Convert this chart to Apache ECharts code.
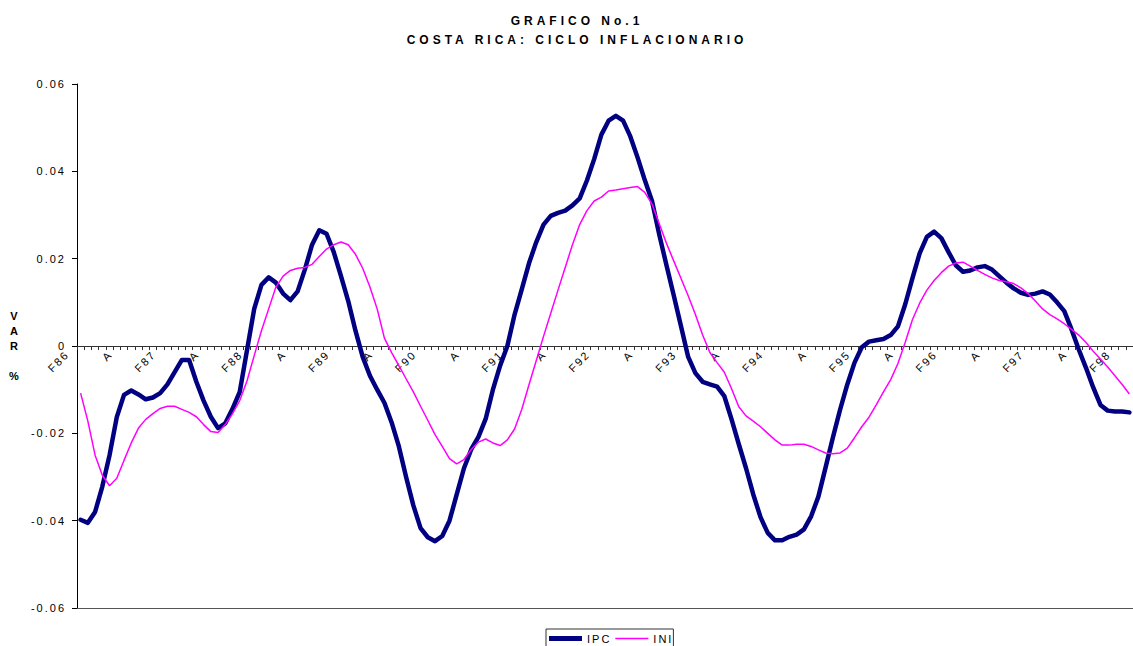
<!DOCTYPE html>
<html><head><meta charset="utf-8">
<script src="https://cdn.jsdelivr.net/npm/echarts@6/dist/echarts.min.js"></script>
<style>
html,body{margin:0;padding:0;background:#fff;}
#c{width:1133px;height:646px;}
#c text{letter-spacing:2px;}
#c text[style*="bold"]{letter-spacing:4px;}
</style></head><body><div id="c"></div>
<script>
const titleLines = ['GRAFICO No.1', 'COSTA RICA: CICLO INFLACIONARIO'];
const seriesNames = ['IPC', 'INI'];
const tickLabels = ['F86','A','F87','A','F88','A','F89','A','F90','A','F91','A','F92','A','F93','A','F94','A','F95','A','F96','A','F97','A','F98'];
const monthNames = ['Feb','Mar','Abr','May','Jun','Jul','Ago','Set','Oct','Nov','Dic','Ene'];
const yTicks = [-0.06, 0.06, 0.02];

const ipc = [
-0.0398,-0.0405,-0.038,-0.0322,-0.025,-0.0163,-0.0112,-0.0102,-0.0111,-0.0122,
-0.0118,-0.0108,-0.0088,-0.006,-0.0032,-0.0032,-0.0082,-0.0125,-0.0162,-0.0188,
-0.0177,-0.0144,-0.0105,-0.001,0.0085,0.014,0.0157,0.0145,0.012,0.0105,
0.0125,0.0175,0.0232,0.0265,0.0257,0.0215,0.016,0.0103,0.0035,-0.0025,
-0.0068,-0.010,-0.013,-0.0175,-0.023,-0.030,-0.0365,-0.0417,-0.0438,-0.0447,
-0.0435,-0.040,-0.034,-0.028,-0.0237,-0.0208,-0.0167,-0.010,-0.0045,0.000,
0.0072,0.013,0.019,0.0238,0.0278,0.0298,0.0305,0.031,0.0322,0.0338,
0.0379,0.0428,0.0484,0.0516,0.0527,0.0516,0.048,0.0432,0.038,0.0332,
0.0255,0.0185,0.0116,0.0046,-0.0025,-0.0062,-0.0082,-0.0088,-0.0093,-0.0115,
-0.0168,-0.0225,-0.028,-0.034,-0.0392,-0.0428,-0.0445,-0.0445,-0.0437,-0.0432,
-0.042,-0.039,-0.0345,-0.0278,-0.021,-0.0146,-0.0088,-0.0038,-0.0003,0.001,
0.0013,0.0016,0.0025,0.0045,0.0095,0.0155,0.0212,0.025,0.0262,0.0247,
0.0215,0.0185,0.017,0.0173,0.018,0.0183,0.0175,0.016,0.0145,0.0132,
0.0122,0.0117,0.012,0.0125,0.0118,0.010,0.008,0.0038,-0.0008,-0.005,
-0.0095,-0.0135,-0.0148,-0.015,-0.015,-0.0152
];
const ini = [
-0.0108,-0.0172,-0.025,-0.0296,-0.032,-0.0303,-0.0262,-0.0222,-0.0188,-0.0168,
-0.0155,-0.0143,-0.0138,-0.0138,-0.0145,-0.0152,-0.0162,-0.018,-0.0196,-0.0198,
-0.018,-0.0155,-0.0125,-0.008,-0.0022,0.0035,0.0085,0.0135,0.016,0.0173,
0.0178,0.018,0.0187,0.0205,0.0222,0.0232,0.0238,0.0232,0.021,0.0178,
0.0135,0.0085,0.0018,-0.0015,-0.0045,-0.0075,-0.0105,-0.0138,-0.017,-0.0203,
-0.023,-0.0258,-0.027,-0.026,-0.0237,-0.022,-0.0213,-0.0222,-0.0228,-0.0215,
-0.019,-0.0145,-0.0088,-0.0033,0.0022,0.0075,0.0128,0.018,0.0232,0.0278,
0.031,0.0332,0.0341,0.0355,0.0357,0.036,0.0363,0.0365,0.0352,0.0325,
0.028,0.0235,0.0195,0.0155,0.0115,0.0072,0.0025,-0.0015,-0.0038,-0.006,
-0.0098,-0.0139,-0.016,-0.0172,-0.0185,-0.02,-0.0215,-0.0227,-0.0227,-0.0225,
-0.0225,-0.023,-0.0238,-0.0245,-0.0247,-0.0245,-0.0234,-0.021,-0.0185,-0.0163,
-0.0135,-0.0105,-0.0077,-0.004,0.0008,0.006,0.0098,0.0128,0.015,0.0168,
0.0183,0.019,0.0192,0.0183,0.0173,0.0164,0.0156,0.015,0.0147,0.0143,
0.0133,0.012,0.0103,0.0085,0.0072,0.0062,0.0051,0.0038,0.0025,0.0008,
-0.0012,-0.003,-0.0048,-0.0068,-0.0088,-0.011
];

const categories = ipc.map(function (v, i) {
  const yr = 86 + Math.floor((i + 1) / 12);
  return monthNames[i % 12] + '-' + yr;
});

const chart = echarts.init(document.getElementById('c'), null, {renderer: 'svg'});
const FONT = 'Liberation Sans, Arial, sans-serif';
chart.setOption({
  animation: false,
  backgroundColor: '#ffffff',
  textStyle: {fontFamily: FONT},
  title: {
    text: titleLines.join('\n'),
    left: 572, top: 6, textAlign: 'center',
    textStyle: {fontSize: 12, fontWeight: 'bold', color: '#000', lineHeight: 19, fontFamily: FONT}
  },
  legend: {
    data: [
      {name: seriesNames[0], icon: 'path://M0,0h33v5h-33z'},
      {name: seriesNames[1], icon: 'path://M0,0h30v1.5h-30z'}
    ],
    symbolKeepAspect: true,
    left: 546, top: 629,
    padding: [4, 6, 4, 3],
    itemWidth: 33, itemHeight: 14, itemGap: 10,
    borderColor: '#333', borderWidth: 1,
    textStyle: {fontSize: 11, color: '#000', fontFamily: FONT}
  },
  grid: {left: 77, right: 0, top: 84, bottom: 38, containLabel: false, outerBoundsMode: 'none'},
  xAxis: [{
    type: 'category',
    data: categories,
    boundaryGap: true,
    position: 'bottom',
    offset: -262,
    axisLine: {onZero: false, lineStyle: {color: '#333', width: 1}},
    axisTick: {show: true, interval: 0, length: 4, lineStyle: {color: '#333'}},
    axisLabel: {
      interval: function (idx) { return idx % 6 === 0; },
      formatter: function (v, idx) { return tickLabels[Math.round(idx / 6)] || ''; },
      rotate: 45, margin: -7, padding: [0, 19, 0, 0],
      fontSize: 11, color: '#000', fontFamily: FONT
    },
    splitLine: {show: false}
  }, {
    type: 'category',
    data: categories,
    position: 'bottom',
    offset: 0,
    axisLine: {onZero: false, lineStyle: {color: '#555', width: 1}},
    axisTick: {show: false},
    axisLabel: {show: false},
    splitLine: {show: false}
  }],
  yAxis: {
    type: 'value',
    min: yTicks[0], max: yTicks[1], interval: yTicks[2],
    name: 'V\nA\nR\n\n%',
    nameLocation: 'middle', nameGap: 62, nameRotate: 0,
    nameTextStyle: {fontSize: 11, fontWeight: 700, color: '#000', lineHeight: 15, align: 'center', fontFamily: FONT},
    axisLine: {show: true, onZero: false, lineStyle: {color: '#000', width: 1}},
    axisTick: {show: true, length: 5, lineStyle: {color: '#000'}},
    axisLabel: {
      margin: 11, fontSize: 11, color: '#000', fontFamily: FONT,
      formatter: function (v) { return Math.abs(v) < 1e-9 ? '0' : v.toFixed(2); }
    },
    splitLine: {show: false}
  },
  series: [{
    name: seriesNames[0], type: 'line', data: ipc, xAxisIndex: 0,
    symbol: 'none', smooth: false,
    lineStyle: {color: '#000080', width: 4.5, join: 'round', cap: 'round'},
    itemStyle: {color: '#000080'}
  }, {
    name: seriesNames[1], type: 'line', data: ini, xAxisIndex: 0,
    symbol: 'none', smooth: false,
    lineStyle: {color: '#ff00ff', width: 1.5},
    itemStyle: {color: '#ff00ff'}
  }]
});
</script></body></html>
